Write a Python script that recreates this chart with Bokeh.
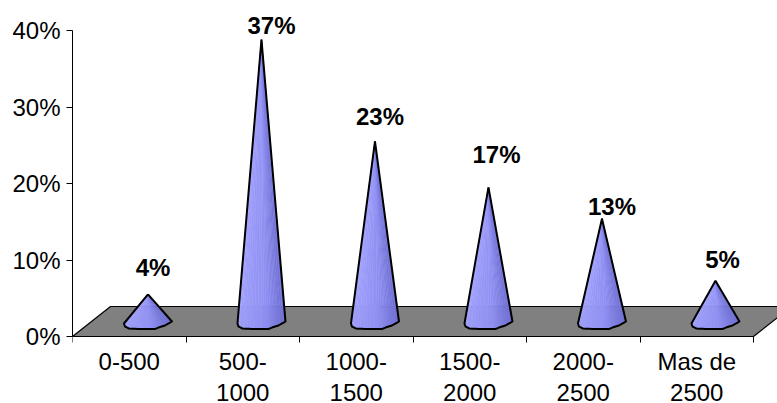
from bokeh.plotting import figure
from bokeh.models import FixedTicker, Range1d, LinearAxis
from bokeh.embed import file_html
from bokeh.resources import INLINE
from bokeh.core.properties import value as val
import numpy as np

labels_line1 = ["0-500", "500-", "1000-", "1500-", "2000-", "Mas de"]
labels_line2 = ["", "1000", "1500", "2000", "2500", "2500"]
values = [4, 37, 23, 17, 13, 5]
peaks = [5.5, 38.8, 25.5, 19.5, 15.4, 7.3]      # apex as read on the axis
y_ticks = [0, 10, 20, 30, 40]

PX_X = 113.5
PX_Y = 306 / 40
x_end = (777 - 72) / PX_X
y_end = 336 / PX_Y
y_start = -67 / PX_Y

p = figure(width=777, height=403, output_backend="svg", toolbar_location=None,
           x_range=Range1d(0, x_end), y_range=Range1d(y_start, y_end),
           x_axis_location=None,
           min_border_left=72, min_border_right=0, min_border_top=0, min_border_bottom=0,
           outline_line_color=None, background_fill_color="white", border_fill_color="white")
p.grid.visible = False

# floor
dx_back = 38 / PX_X
dy_back = 30 / PX_Y
p.patch([0, dx_back, 6 + dx_back, 6], [0, dy_back, dy_back, 0],
        fill_color="#808080", line_color="black", line_width=1.2)

# cones
offs_x = np.array([-24, -23, -19, -10, 0, 7, 12, 17, 24]) / PX_X
offs_y = np.array([323, 326, 328, 328.5, 328.5, 328.5, 326.5, 325, 321])
offs_y = (336 - offs_y) / PX_Y
t = np.linspace(0, 1, len(offs_x))
tt = np.linspace(0, 1, 25)
bx = np.interp(tt, t, offs_x)
by = np.interp(tt, t, offs_y)
left = np.array([0xA8, 0xA8, 0xFF])
mid = np.array([0x90, 0x90, 0xF4])
right = np.array([0x70, 0x70, 0xD4])
def colour(f):
    c = left + (mid - left) * f / 0.55 if f < 0.55 else mid + (right - mid) * (f - 0.55) / 0.45
    return "#%02x%02x%02x" % tuple(int(v) for v in c)

for i, pk in enumerate(peaks):
    cx = i + 0.665
    xs, ys, cs = [], [], []
    for j in range(len(tt) - 1):
        xs.append([cx, cx + bx[j], cx + bx[j + 1]])
        ys.append([pk, by[j], by[j + 1]])
        cs.append(colour(tt[j]))
    p.patches(xs, ys, fill_color=cs, line_color=cs, line_width=0.5)
    p.line([cx] + list(cx + bx) + [cx], [pk] + list(by) + [pk],
           line_color="black", line_width=2, line_join="round")

# data labels
label_dx = [5, 10, 5, 8, 10, 7]
label_up = [27, 14, 25, 33, 12, 21]
p.text([i + 0.665 + d / PX_X for i, d in enumerate(label_dx)],
       [pk + u / PX_Y for pk, u in zip(peaks, label_up)],
       text=[f"{v}%" for v in values], text_align="center", text_baseline="middle",
       text_font=val("Liberation Sans"), text_font_style="bold", text_font_size="24px",
       text_color="black")

# axes
centers = [i + 0.5 for i in range(6)]
bounds = list(range(7))
ax = LinearAxis(fixed_location=0, bounds=(0, 6),
                ticker=FixedTicker(ticks=centers, minor_ticks=bounds),
                major_label_overrides={c: s for c, s in zip(centers, labels_line1)},
                major_tick_out=0, major_tick_in=0, minor_tick_out=6, minor_tick_in=0,
                minor_tick_line_color="black", axis_line_color="black",
                major_label_text_font="Liberation Sans", major_label_text_font_size="24px",
                major_label_text_color="black", major_label_standoff=5)
p.add_layout(ax, "below")

ax2 = LinearAxis(fixed_location=-42 / PX_Y, ticker=FixedTicker(ticks=centers),
                 major_label_overrides={c: s for c, s in zip(centers, labels_line2)},
                 major_tick_out=0, major_tick_in=0, minor_tick_out=0, minor_tick_in=0,
                 axis_line_color=None, major_label_text_font="Liberation Sans",
                 major_label_text_font_size="24px", major_label_text_color="black",
                 major_label_standoff=5)
p.add_layout(ax2, "below")

ay = p.yaxis[0]
ay.bounds = (0, 40)
ay.ticker = FixedTicker(ticks=y_ticks)
ay.major_label_overrides = {v: f"{v}%" for v in y_ticks}
ay.major_tick_out = 6
ay.major_tick_in = 0
ay.axis_line_color = "black"
ay.major_label_text_font = "Liberation Sans"
ay.major_label_text_font_size = "24px"
ay.major_label_text_color = "black"
ay.major_label_standoff = 6

open("out.html", "w").write(file_html(p, INLINE))
